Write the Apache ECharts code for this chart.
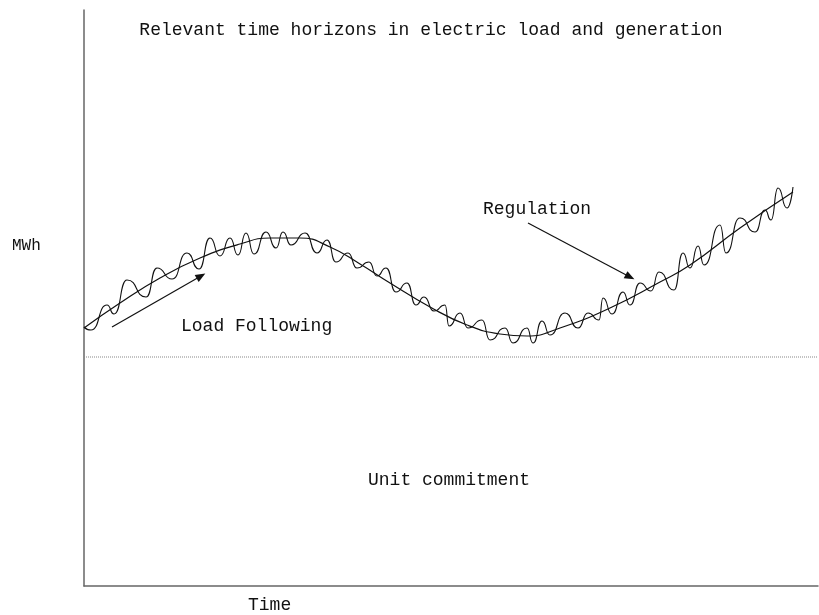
<!DOCTYPE html>
<html>
<head>
<meta charset="utf-8">
<script src="https://cdn.jsdelivr.net/npm/echarts@6/dist/echarts.min.js"></script>
<style>html,body{margin:0;padding:0;background:#fff}#c{width:819px;height:615px}</style>
</head>
<body>
<div id="c"></div>
<script>
// Arbitrary units: time 0..734, MWh 21..597
const trendTime = [0, 36, 76, 116, 156, 186, 216, 246, 276, 306, 346, 383, 416, 443, 476, 526, 576, 606, 656, 709];
const trendMWh  = [279, 304, 329, 349, 363, 369, 369, 360, 343, 324, 300, 282, 273, 271, 279, 299, 325, 342, 379, 415];

const wiggleTime = [0, 7, 23, 30, 43, 62, 73, 88, 103, 115, 126, 136, 146, 154, 162, 170, 182, 192, 199, 207,
  221, 233, 243, 252, 264, 273, 285, 293, 302, 312, 323, 332, 340, 350, 361, 365, 376, 384, 398, 406,
  421, 429, 443, 449, 458, 466, 481, 494, 504, 515, 519, 528, 539, 546, 556, 567, 575, 590, 599, 606,
  614, 620, 636, 642, 656, 671, 681, 687, 694, 703, 709];
const wiggleMWh = [280, 277, 302, 293, 327, 310, 339, 328, 354, 338, 369, 351, 369, 352, 374, 353, 375, 359, 375, 362,
  374, 354, 367, 345, 354, 339, 345, 331, 339, 315, 324, 302, 310, 296, 302, 281, 294, 279, 287, 267,
  279, 264, 279, 264, 286, 272, 294, 279, 294, 287, 309, 293, 315, 302, 324, 316, 335, 317, 354, 339,
  361, 342, 382, 354, 389, 375, 397, 387, 419, 399, 420];

const baseMWh = 250;
const loadArrow = [[28, 280], [117, 331]];
const regArrow = [[444, 384], [546, 330]];

const titleText = 'Relevant time horizons in electric load and generation';
const labels = { y: 'MWh', x: 'Time', load: 'Load Following', reg: 'Regulation', unit: 'Unit commitment' };

const FONT = '"Liberation Mono", "DejaVu Sans Mono", monospace';

const chart = echarts.init(document.getElementById('c'), null, { renderer: 'canvas' });
const pair = (xs, ys) => xs.map((x, i) => [x, ys[i]]);

chart.setOption({
  animation: false,
  backgroundColor: '#fff',
  title: {
    text: titleText,
    left: 426, top: 16, textAlign: 'center',
    textStyle: { fontFamily: FONT, fontSize: 18, fontWeight: 'normal', color: '#111' }
  },
  grid: { left: 84, right: 1, top: 10, bottom: 29 },
  xAxis: {
    type: 'value', min: 0, max: 734,
    axisLine: { show: true, lineStyle: { color: '#666', width: 1.5 } },
    axisTick: { show: false }, axisLabel: { show: false }, splitLine: { show: false }
  },
  yAxis: {
    type: 'value', min: 21, max: 597,
    axisLine: { show: true, lineStyle: { color: '#666', width: 1.5 } },
    axisTick: { show: false }, axisLabel: { show: false }, splitLine: { show: false }
  },
  series: [
    {
      type: 'line', data: pair(trendTime, trendMWh), smooth: true, symbol: 'none',
      lineStyle: { color: '#111', width: 1.2 },
      markLine: {
        silent: true, symbol: ['none', 'triangle'], symbolSize: [8, 10],
        label: { show: false },
        lineStyle: { color: '#111', width: 1.2, type: 'solid' },
        data: [
          [{ coord: loadArrow[0] }, { coord: loadArrow[1] }],
          [{ coord: regArrow[0] }, { coord: regArrow[1] }]
        ]
      }
    },
    {
      type: 'line', data: pair(wiggleTime, wiggleMWh), smooth: 0.6, smoothMonotone: 'x', symbol: 'none',
      lineStyle: { color: '#111', width: 1.1 }
    },
    {
      type: 'line', data: [[0, baseMWh], [734, baseMWh]], symbol: 'none',
      lineStyle: { color: '#888', width: 1, type: [1, 1] }
    }
  ],
  graphic: [
    { type: 'text', left: 12, top: 238, style: { text: labels.y, font: '16px ' + FONT, fill: '#111' } },
    { type: 'text', left: 248, top: 596, style: { text: labels.x, font: '18px ' + FONT, fill: '#111' } },
    { type: 'text', left: 181, top: 317, style: { text: labels.load, font: '18px ' + FONT, fill: '#111' } },
    { type: 'text', left: 483, top: 200, style: { text: labels.reg, font: '18px ' + FONT, fill: '#111' } },
    { type: 'text', left: 368, top: 471, style: { text: labels.unit, font: '18px ' + FONT, fill: '#111' } }
  ]
});
</script>
</body>
</html>
